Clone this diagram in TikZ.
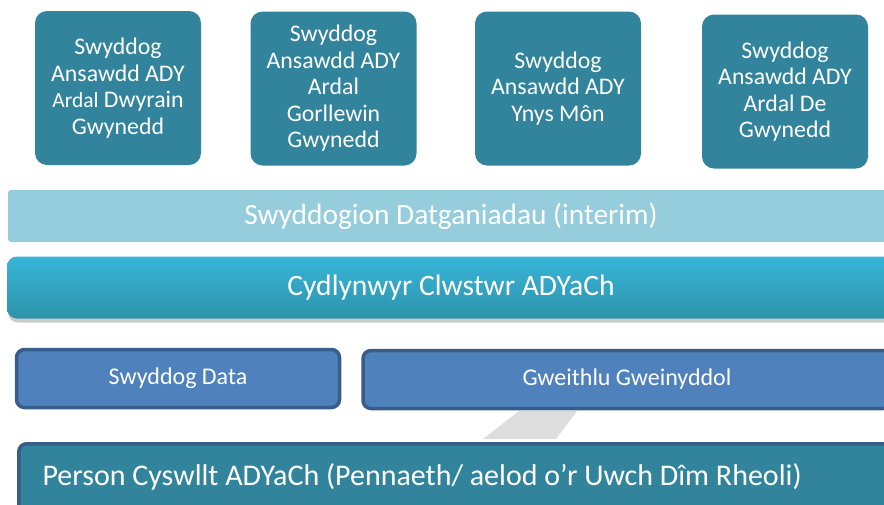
\documentclass[tikz,border=0pt]{standalone}
\usepackage{fontspec}
\setmainfont{Carlito}
\usetikzlibrary{shadows}

\definecolor{swyddteal}{HTML}{31849B}
\definecolor{datganblue}{HTML}{95CDDD}
\definecolor{clwstop}{HTML}{38B5D8}
\definecolor{clwsbot}{HTML}{2D93AB}
\definecolor{gwaithfill}{HTML}{4F81BD}
\definecolor{gwaithline}{HTML}{385D8A}
\definecolor{arrowgrey}{HTML}{DDDDDD}

\tikzset{
	swyddbox/.style={fill=swyddteal,text=white,rounded corners=12pt,align=center,
		minimum width=166pt,minimum height=154pt,font=\fontsize{23.8}{26.5}\selectfont},
	gwaithbox/.style={fill=gwaithfill,draw=gwaithline,line width=3.5pt,rounded corners=8pt,
		text=white,minimum height=58pt}
}

\begin{document}
\begin{tikzpicture}[x=1pt,y=-1pt]
	\useasboundingbox (0,0) rectangle (884,504);
	\clip (0,0) rectangle (884,504);

	% swyddogion ansawdd
	\node[swyddbox] (dwyrain) at (118,88) {Swyddog\\Ansawdd ADY\\{\fontsize{21.5}{26.5}\selectfont Ardal} Dwyrain\\Gwynedd};
	\node[swyddbox] (gorllewin) at (333.5,88.5) {Swyddog\\Ansawdd ADY\\Ardal\\Gorllewin\\Gwynedd};
	\node[swyddbox] (mon) at (558,88.5) {Swyddog\\Ansawdd ADY\\Ynys Môn};
	\node[swyddbox] (de) at (785,91.5) {Swyddog\\Ansawdd ADY\\Ardal De\\Gwynedd};

	% datganiadau
	\node[fill=datganblue,rounded corners=3pt,minimum width=886pt,minimum height=52pt,
		text=white,font=\fontsize{29.4}{32}\selectfont] (datgan) at (451,216) {Swyddogion Datganiadau (interim)};

	% cydlynwyr
	\node[top color=clwstop,bottom color=clwsbot,rounded corners=10pt,minimum width=888pt,minimum height=62pt,
		drop shadow={shadow xshift=1pt,shadow yshift=-4pt,fill=black!40,opacity=.5},
		text=white,font=\fontsize{29.6}{32}\selectfont] (cydlyn) at (451,287.5) {Cydlynwyr Clwstwr ADYaCh};

	% saeth gefndir
	\fill[arrowgrey] (519,411) -- (577,411) -- (556,439) -- (483,439) -- cycle;

	% data a gweinyddol
	\node[gwaithbox,minimum width=323pt,font=\fontsize{24}{28}\selectfont] (data) at (178,378.5) {Swyddog Data};
	\node[gwaithbox,minimum width=528pt,font=\fontsize{24}{28}\selectfont] (gweinydd) at (627,379.5) {Gweithlu Gweinyddol};

	% person cyswllt
	\node[gwaithbox,fill=swyddteal,minimum width=890pt,minimum height=80pt,anchor=north west,
		text=white] (person) at (17,442) {};
	\node[anchor=west,text=white,font=\fontsize{30}{34}\selectfont] (persontxt) at (39,477)
		{Person Cyswllt ADYaCh (Pennaeth/ aelod o’r Uwch Dîm Rheoli)};
\end{tikzpicture}
\end{document}
